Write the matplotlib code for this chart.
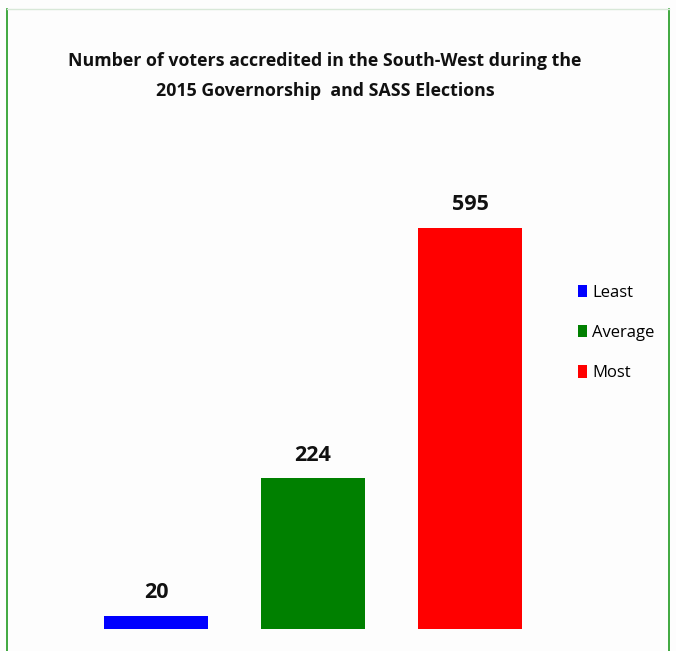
import matplotlib
matplotlib.use("Agg")
import matplotlib.pyplot as plt
from matplotlib import font_manager
from matplotlib.lines import Line2D
from matplotlib.patches import Patch

# Chart data
categories = ["Least", "Average", "Most"]
values = [20, 224, 595]
colors = ["#0000ff", "#008000", "#ff0000"]
title = "Number of voters accredited in the South-West during the\n2015 Governorship  and SASS Elections"

available = {f.name for f in font_manager.fontManager.ttflist}
family = [f for f in ["Liberation Sans Narrow", "Open Sans", "DejaVu Sans"] if f in available]
plt.rcParams["font.family"] = family

W, H = 676, 651
fig = plt.figure(figsize=(W / 100, H / 100), dpi=100, facecolor="#fdfdfd")

# Plot area in pixel terms: baseline at y=629, x-range centred on the bars
left_px, right_px = 77.5, 548.5
base_px = 629
ymax = 700
px_per_unit = (629 - 228) / 595.0
top_px = base_px - ymax * px_per_unit
ax = fig.add_axes([left_px / W, (H - base_px) / H, (right_px - left_px) / W, (base_px - top_px) / H])
ax.set_facecolor("none")

x = list(range(len(categories)))
bars = ax.bar(x, values, width=0.66, color=colors)
ax.set_xlim(-0.5, 2.5)
ax.set_ylim(0, ymax)
ax.axis("off")

for xi, v in zip(x, values):
    ax.annotate(str(v), (xi, v), xytext=(0, 9), textcoords="offset points",
                ha="center", va="bottom", fontsize=15.5, fontweight="bold", color="#111111")

fig.text(325 / W, 1 - 76 / H, title, ha="center", va="center", fontsize=12.8,
         fontweight="bold", color="#111111", linespacing=1.85)

handles = [Patch(facecolor=c, edgecolor="none") for c in colors]
fig.legend(handles, categories, loc="upper left", bbox_to_anchor=(578 / W, 1 - 285 / H),
           frameon=False, fontsize=12, handlelength=0.55, handleheight=0.75,
           handletextpad=0.3, labelspacing=1.45, borderpad=0, borderaxespad=0)

# Frame lines around the chart
fig.add_artist(Line2D([7 / W, 7 / W], [0, 1 - 9 / H], color="#1f9a1f", lw=1.2))
fig.add_artist(Line2D([669 / W, 669 / W], [0, 1 - 9 / H], color="#1f9a1f", lw=1.2))
fig.add_artist(Line2D([7 / W, 669 / W], [1 - 9 / H, 1 - 9 / H], color="#d8e8d8", lw=1.0))

fig.savefig("out.png", dpi=100, facecolor=fig.get_facecolor())
